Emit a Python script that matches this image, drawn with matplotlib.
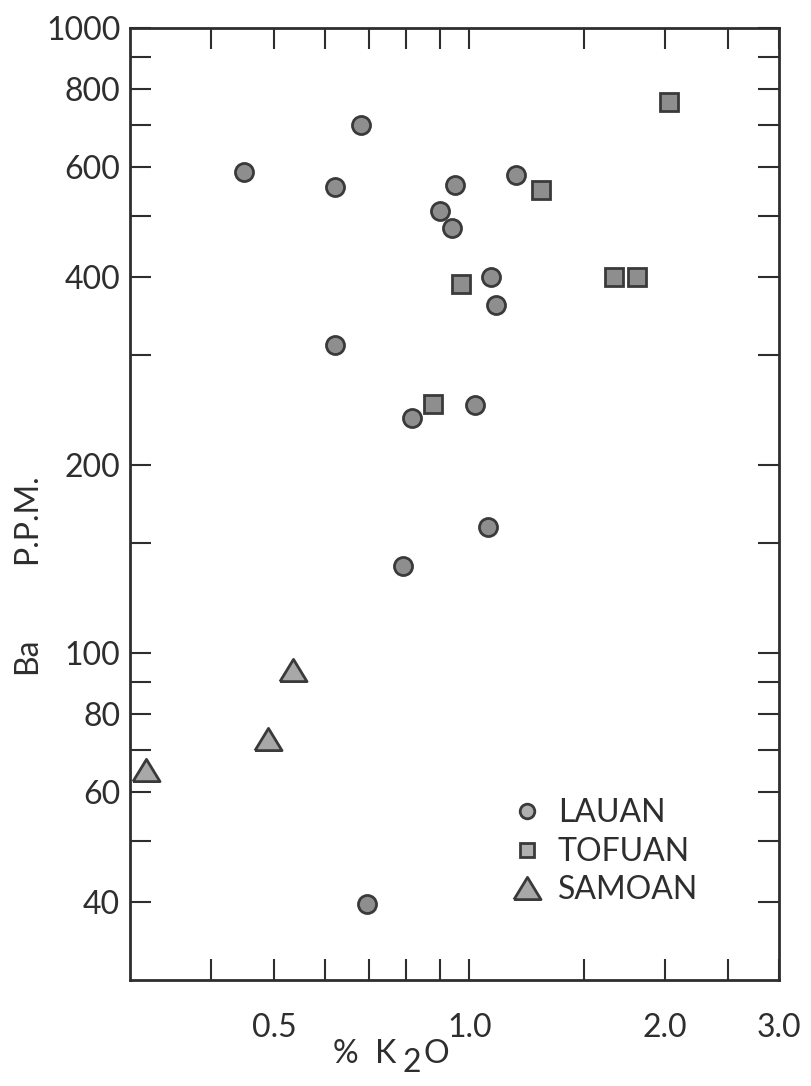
import numpy as np
import matplotlib
matplotlib.use("Agg")
import matplotlib.pyplot as plt
from matplotlib.lines import Line2D
from matplotlib.ticker import FixedLocator, FixedFormatter, NullFormatter

# Ba (ppm) vs K2O (%) for three island groups
lauan_k2o = [0.45, 0.68, 0.62, 0.95, 1.18, 0.90, 0.94, 1.08, 1.10, 0.62, 0.815, 1.02, 1.07, 0.79, 0.695]
lauan_ba = [588, 700, 557, 560, 582, 510, 478, 400, 360, 311, 238, 249, 159, 138, 39.7]

tofuan_k2o = [2.03, 1.29, 0.97, 1.67, 1.81, 0.88]
tofuan_ba = [762, 550, 390, 400, 399, 250]

samoan_k2o = [0.535, 0.49, 0.317]
samoan_ba = [94, 73, 65]

x_major = [0.5, 1.0, 2.0, 3.0]
x_major_labels = ['0.5', '1.0', '2.0', '3.0']
x_minor = [0.4, 0.6, 0.7, 0.8, 0.9, 1.5, 2.5]
y_major = [40, 60, 80, 100, 200, 400, 600, 800, 1000]
y_major_labels = ['40', '60', '80', '100', '200', '400', '600', '800', '1000']
y_minor = [50, 70, 90, 150, 300, 500, 700, 900]

plt.rcParams['font.family'] = ['Lato', 'DejaVu Sans']
ink = '#2e2e2e'
fsize = 23

W, H = 812, 1086
fig = plt.figure(figsize=(W / 100, H / 100), dpi=100)
ax = fig.add_axes([130 / W, (H - 980) / H, 649 / W, 952 / H])

# flattened triangle marker like the original
tri = [(-1, -0.82), (1, -0.82), (0, 0.82), (-1, -0.82)]

edge = '#3a3a3a'
fill = '#8e8e8e'
ax.plot(lauan_k2o, lauan_ba, 'o', ms=13, mfc=fill, mec=edge, mew=2.0, ls='none')
ax.plot(tofuan_k2o, tofuan_ba, 's', ms=13, mfc=fill, mec=edge, mew=2.0, ls='none')
ax.plot(samoan_k2o, samoan_ba, marker=tri, ms=19.5, mfc='#a8a8a8', mec=edge, mew=2.0, ls='none')

ax.set_xscale('log')
ax.set_yscale('log')
ax.set_xlim(0.3, 3.0)
ax.set_ylim(30, 1000)

ax.xaxis.set_major_locator(FixedLocator(x_major))
ax.xaxis.set_major_formatter(FixedFormatter(x_major_labels))
ax.xaxis.set_minor_locator(FixedLocator(x_minor))
ax.xaxis.set_minor_formatter(NullFormatter())
ax.yaxis.set_major_locator(FixedLocator(y_major))
ax.yaxis.set_major_formatter(FixedFormatter(y_major_labels))
ax.yaxis.set_minor_locator(FixedLocator(y_minor))
ax.yaxis.set_minor_formatter(NullFormatter())

ax.tick_params(which='both', direction='in', length=15, width=1.5, color=ink,
               top=True, right=True, labelsize=fsize, labelcolor=ink)
ax.tick_params(axis='x', which='both', pad=24)
ax.tick_params(axis='y', which='both', pad=7)
for s in ax.spines.values():
    s.set_linewidth(2.0)
    s.set_color(ink)

# axis labels
ax.text(-0.159, 0.341, 'Ba', rotation=90, ha='center', va='center',
        fontsize=fsize, color=ink, transform=ax.transAxes)
ax.text(-0.159, 0.485, 'P.P.M.', rotation=90, ha='center', va='center',
        fontsize=fsize, color=ink, transform=ax.transAxes)
ax.text(0.411, -0.078, '%  K', ha='right', va='center', fontsize=fsize, color=ink,
        transform=ax.transAxes)
ax.text(0.434, -0.087, '2', ha='center', va='center', fontsize=fsize, color=ink,
        transform=ax.transAxes)
ax.text(0.452, -0.078, 'O', ha='left', va='center', fontsize=fsize, color=ink,
        transform=ax.transAxes)

handles = [
    Line2D([], [], marker='o', ms=10.5, mfc='#b0b0b0', mec=edge, mew=2.0, ls='none'),
    Line2D([], [], marker='s', ms=10.5, mfc='#b0b0b0', mec=edge, mew=2.0, ls='none'),
    Line2D([], [], marker=tri, ms=19.5, mfc='#a8a8a8', mec=edge, mew=2.0, ls='none'),
]
leg = ax.legend(handles, ['LAUAN', 'TOFUAN', 'SAMOAN'], loc='upper left',
                bbox_to_anchor=(0.587, 0.191), frameon=False, borderpad=0,
                borderaxespad=0, handlelength=1.0, handletextpad=0.47,
                labelspacing=0.27, fontsize=fsize)
for t in leg.get_texts():
    t.set_color(ink)

fig.savefig('out.png', dpi=100, facecolor='white')
